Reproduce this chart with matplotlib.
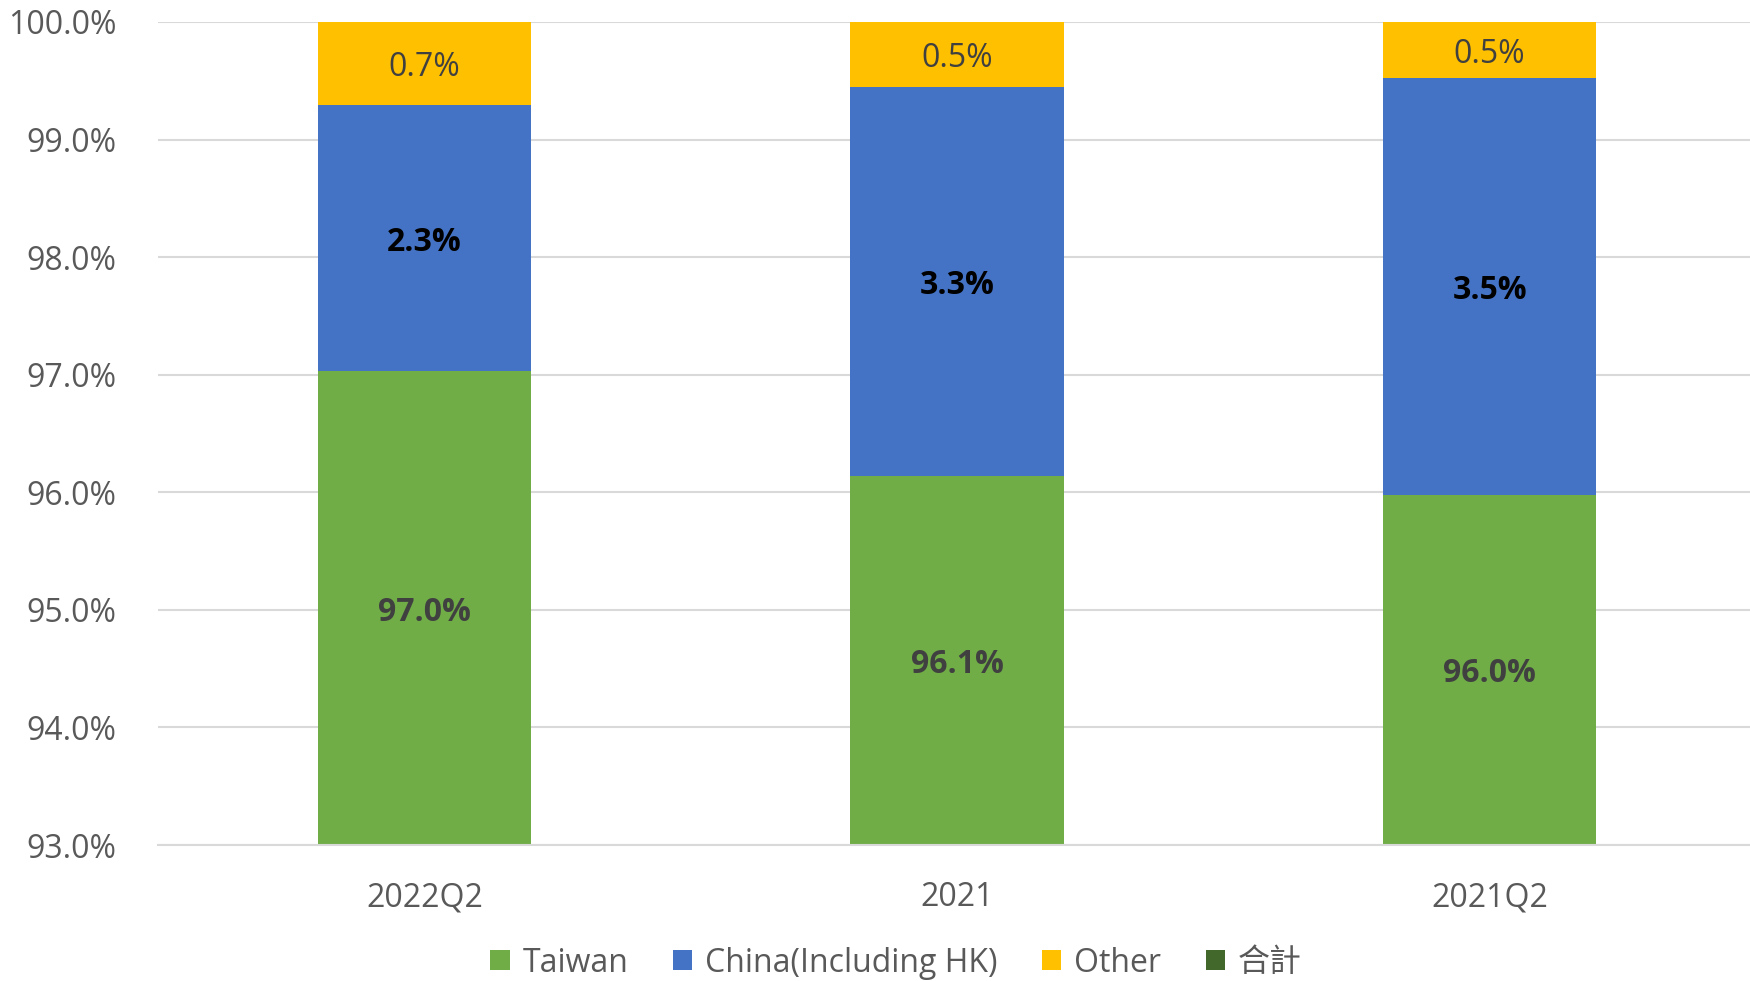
import numpy as np
import matplotlib.pyplot as plt
from matplotlib.patches import Patch
from matplotlib.ticker import FuncFormatter

plt.rcParams['font.family'] = ['Open Sans', 'Noto Sans CJK TC', 'DejaVu Sans']

# data (percent)
categories = ['2022Q2', '2021', '2021Q2']
taiwan = [97.03, 96.14, 95.98]
china = [2.26, 3.31, 3.54]
other = [0.71, 0.549, 0.48]
series_names = ['Taiwan', 'China(Including HK)', 'Other', '合計']

colors = ['#70AD47', '#4472C4', '#FFC000', '#43682B']
label_colors = ['#404040', '#000000', '#404040']
label_weights = ['bold', 'bold', 'normal']
text_gray = '#595959'
ymin, ymax = 93.0, 100.0
fs = 23

fig = plt.figure(figsize=(17.5, 9.81), dpi=100)
ax = fig.add_axes([158 / 1750, (981 - 845) / 981, 1598 / 1750, (845 - 22) / 981])

x = np.arange(len(categories))
bottom = np.zeros(len(categories))
for vals, col, lcol, lw in zip([taiwan, china, other], colors, label_colors, label_weights):
    vals = np.array(vals)
    ax.bar(x, vals, 0.4, bottom=bottom, color=col, zorder=2)
    for xi, b, v in zip(x, bottom, vals):
        # label sits in the middle of the visible part of the segment
        lo = max(b, ymin)
        hi = min(b + v, ymax)
        ax.annotate(f'{v:.1f}%', (xi, (lo + hi) / 2), xytext=(0, -3),
                    textcoords='offset points', ha='center', va='center',
                    fontsize=fs, color=lcol, fontweight=lw, zorder=3)
    bottom = bottom + vals

ax.set_xlim(-0.5, 2.5)
ax.set_ylim(ymin, ymax)
ax.set_yticks(np.arange(93, 100.5, 1.0))
ax.yaxis.set_major_formatter(FuncFormatter(lambda v, p: f'{v:.1f}%'))
ax.set_xticks(x)
ax.set_xticklabels(categories)
ax.grid(axis='y', color='#D9D9D9', linewidth=1.5, zorder=0)
ax.tick_params(axis='both', length=0, labelsize=fs, labelcolor=text_gray)
ax.tick_params(axis='x', pad=26)
ax.tick_params(axis='y', pad=30)
for side in ['top', 'right', 'left']:
    ax.spines[side].set_visible(False)
ax.spines['bottom'].set_color('#D9D9D9')
ax.spines['bottom'].set_linewidth(1.5)

handles = [Patch(facecolor=c) for c in colors]
fig.legend(handles, series_names, loc='center', bbox_to_anchor=(896 / 1750, 1 - 963 / 981),
           ncol=4, frameon=False, fontsize=fs, labelcolor=text_gray,
           handlelength=0.6, handleheight=0.6, handletextpad=0.4, columnspacing=1.4)

fig.savefig('out.png', dpi=100)
